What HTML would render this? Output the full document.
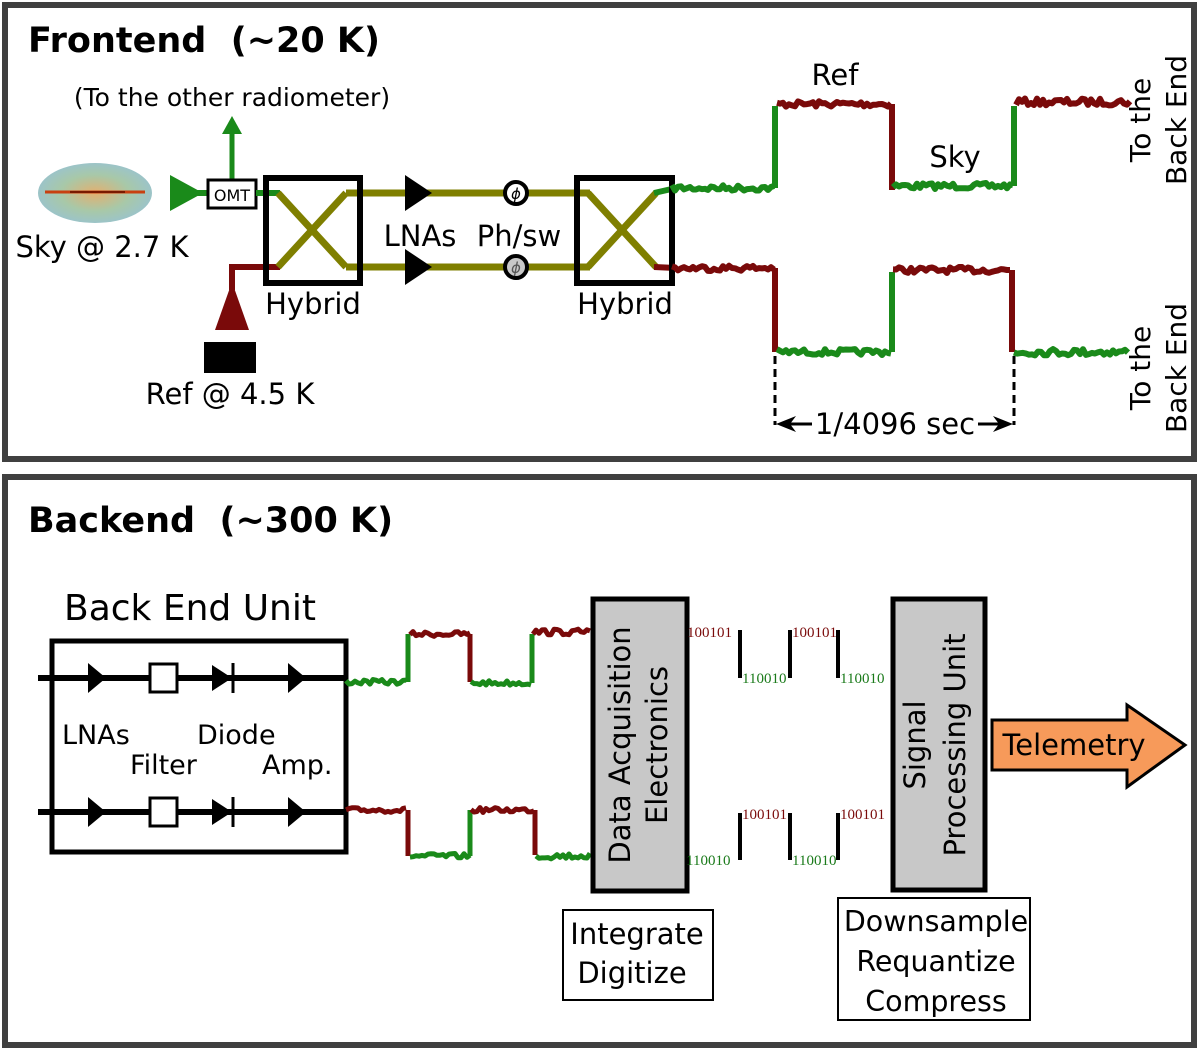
<!DOCTYPE html>
<html><head><meta charset="utf-8"><style>
html,body{margin:0;padding:0;background:#fff;}
svg{display:block;font-family:"DejaVu Sans","Liberation Sans",sans-serif;}
text{white-space:pre;}
</style></head><body>
<svg id="s" width="1200" height="1050" viewBox="0 0 1200 1050" xmlns="http://www.w3.org/2000/svg">
<defs>
<radialGradient id="sky" cx="50%" cy="50%" r="50%">
<stop offset="0" stop-color="#e3b070"/><stop offset="0.6" stop-color="#a8c8a8"/><stop offset="1" stop-color="#9cc4c8"/>
</radialGradient>
</defs>
<rect x="0" y="0" width="1200" height="1050" fill="#fff"/>
<rect x="5" y="5" width="1189" height="454" fill="none" stroke="#404040" stroke-width="6"/>
<rect x="5" y="477" width="1189" height="568" fill="none" stroke="#404040" stroke-width="6"/>

<!-- FRONTEND -->
<text x="28" y="52" font-size="35" font-weight="bold">Frontend  (~20 K)</text>
<text x="232" y="106" font-size="25" text-anchor="middle">(To the other radiometer)</text>
<line x1="232" y1="182" x2="232" y2="132" stroke="#1a8a1a" stroke-width="5"/>
<polygon points="222,134 242,134 232,116" fill="#1a8a1a"/>
<ellipse cx="95" cy="193" rx="57" ry="30" fill="url(#sky)"/>
<line x1="45" y1="192" x2="145" y2="192" stroke="#c84010" stroke-width="3"/>
<line x1="70" y1="192" x2="125" y2="192" stroke="#7a1a00" stroke-width="2"/>
<line x1="195" y1="193" x2="210" y2="193" stroke="#1a8a1a" stroke-width="6"/>
<polygon points="170,175 170,211 203,193" fill="#1a8a1a"/>
<rect x="208" y="180" width="48" height="28" fill="#fff" stroke="#000" stroke-width="3"/>
<text x="232" y="201" font-size="16" text-anchor="middle">OMT</text>
<line x1="256" y1="193" x2="280" y2="193" stroke="#1a8a1a" stroke-width="6"/>
<text x="102" y="257" font-size="29" text-anchor="middle">Sky @ 2.7 K</text>
<!-- ref load -->
<polyline points="280,267 232,267 232,290" fill="none" stroke="#7a0a0a" stroke-width="6"/>
<polygon points="232,282 215,330 249,330" fill="#7a0a0a"/>
<rect x="204" y="342" width="52" height="31" fill="#000"/>
<text x="230" y="404" font-size="29" text-anchor="middle">Ref @ 4.5 K</text>
<!-- hybrids and lines -->
<g stroke="#7f7f00" stroke-width="7" fill="none">
<line x1="346" y1="193" x2="590" y2="193"/>
<line x1="346" y1="267" x2="590" y2="267"/>
<polyline points="278,193 346,267"/>
<polyline points="278,267 346,193"/>
<polyline points="588,193 656,267"/>
<polyline points="588,267 656,193"/>
</g>
<line x1="654" y1="193" x2="676" y2="188" stroke="#1a8a1a" stroke-width="6"/>
<line x1="654" y1="267" x2="676" y2="268" stroke="#7a0a0a" stroke-width="6"/>
<rect x="266" y="178" width="94" height="105" fill="none" stroke="#000" stroke-width="6"/>
<rect x="577" y="178" width="95" height="105" fill="none" stroke="#000" stroke-width="6"/>
<text x="313" y="314" font-size="29" text-anchor="middle">Hybrid</text>
<text x="625" y="314" font-size="29" text-anchor="middle">Hybrid</text>
<polygon points="405,175 405,211 432,193" fill="#000"/>
<polygon points="405,249 405,285 432,267" fill="#000"/>
<circle cx="516" cy="193" r="11" fill="#fff" stroke="#000" stroke-width="4"/>
<text x="516" y="199" font-size="15" font-style="italic" text-anchor="middle">ϕ</text>
<circle cx="516" cy="267" r="11" fill="#c8c8c8" stroke="#000" stroke-width="4"/>
<text x="516" y="273" font-size="15" font-style="italic" text-anchor="middle" fill="#555">ϕ</text>
<text x="420" y="246" font-size="29" text-anchor="middle">LNAs</text>
<text x="519" y="246" font-size="29" text-anchor="middle">Ph/sw</text>
<text x="835" y="85" font-size="29" text-anchor="middle">Ref</text>
<text x="955" y="167" font-size="29" text-anchor="middle">Sky</text>
<g id="wave"></g>
<line x1="775" y1="356" x2="775" y2="425" stroke="#000" stroke-width="3" stroke-dasharray="8,5"/>
<line x1="1014" y1="356" x2="1014" y2="425" stroke="#000" stroke-width="3" stroke-dasharray="8,5"/>
<line x1="780" y1="424" x2="812" y2="424" stroke="#000" stroke-width="3"/>
<polygon points="776,424 796,416 790,424 796,432" fill="#000"/>
<line x1="978" y1="424" x2="1008" y2="424" stroke="#000" stroke-width="3"/>
<polygon points="1013,424 993,416 999,424 993,432" fill="#000"/>
<text x="895" y="434" font-size="29" text-anchor="middle">1/4096 sec</text>
<g font-size="28" text-anchor="middle">
<text transform="translate(1150,120) rotate(-90)">To the</text>
<text transform="translate(1186,120) rotate(-90)">Back End</text>
<text transform="translate(1150,368) rotate(-90)">To the</text>
<text transform="translate(1186,368) rotate(-90)">Back End</text>
</g>

<!-- BACKEND -->
<text x="28" y="532" font-size="35" font-weight="bold">Backend  (~300 K)</text>
<text x="190" y="620" font-size="36" text-anchor="middle">Back End Unit</text>
<rect x="52" y="641" width="294" height="211" fill="none" stroke="#000" stroke-width="5"/>
<g id="beu"></g>
<g font-size="27">
<text x="62" y="744">LNAs</text>
<text x="197" y="744">Diode</text>
<text x="130" y="774">Filter</text>
<text x="262" y="774">Amp.</text>
</g>
<rect x="593" y="599" width="94" height="292" fill="#c8c8c8" stroke="#000" stroke-width="5"/>
<g font-size="29" text-anchor="middle">
<text transform="translate(630,745) rotate(-90)">Data Acquisition</text>
<text transform="translate(667,745) rotate(-90)">Electronics</text>
</g>
<rect x="893" y="599" width="92" height="291" fill="#c8c8c8" stroke="#000" stroke-width="5"/>
<g font-size="29" text-anchor="middle">
<text transform="translate(925,745) rotate(-90)">Signal</text>
<text transform="translate(965,745) rotate(-90)">Processing Unit</text>
</g>
<polygon points="992,720 1127,720 1127,705 1185,745 1127,787 1127,770 992,770" fill="#f79a5a" stroke="#000" stroke-width="3"/>
<text x="1074" y="755" font-size="29" text-anchor="middle">Telemetry</text>
<rect x="563" y="910" width="150" height="90" fill="#fff" stroke="#000" stroke-width="2"/>
<text x="637" y="944" font-size="29" text-anchor="middle">Integrate</text>
<text x="632" y="983" font-size="29" text-anchor="middle">Digitize</text>
<rect x="838" y="898" width="192" height="122" fill="#fff" stroke="#000" stroke-width="2"/>
<text x="936" y="931" font-size="28.5" text-anchor="middle">Downsample</text>
<text x="936" y="971" font-size="28.5" text-anchor="middle">Requantize</text>
<text x="936" y="1011" font-size="28.5" text-anchor="middle">Compress</text>
<g font-family="'Liberation Serif',serif" font-size="15">
<text x="687" y="637" fill="#7a0a0a">100101</text>
<text x="742" y="683" fill="#1a7a1a">110010</text>
<text x="792" y="637" fill="#7a0a0a">100101</text>
<text x="840" y="683" fill="#1a7a1a">110010</text>
<text x="686" y="865" fill="#1a7a1a">110010</text>
<text x="742" y="819" fill="#7a0a0a">100101</text>
<text x="792" y="865" fill="#1a7a1a">110010</text>
<text x="840" y="819" fill="#7a0a0a">100101</text>
</g>
<g stroke="#000" stroke-width="4">
<line x1="740" y1="630" x2="740" y2="678"/>
<line x1="790" y1="630" x2="790" y2="678"/>
<line x1="838" y1="630" x2="838" y2="678"/>
<line x1="740" y1="813" x2="740" y2="860"/>
<line x1="790" y1="813" x2="790" y2="860"/>
<line x1="838" y1="813" x2="838" y2="860"/>
</g>
</svg>
<script>
(function(){
var NS="http://www.w3.org/2000/svg";var seed=7;
function r(){seed=(seed*16807)%2147483647;return seed/2147483647-0.5;}
var G="#1a8a1a",R="#7a0a0a";
function seg(g,x1,x2,y,c,w,amp){var p=[];for(var x=x1;x<=x2;x+=3){p.push(x+","+(y+r()*amp).toFixed(1));}
var e=document.createElementNS(NS,"polyline");e.setAttribute("points",p.join(" "));e.setAttribute("fill","none");e.setAttribute("stroke",c);e.setAttribute("stroke-width",w);e.setAttribute("stroke-linejoin","round");g.appendChild(e);}
function vl(g,x,y1,y2,c,w){var e=document.createElementNS(NS,"line");e.setAttribute("x1",x);e.setAttribute("x2",x);e.setAttribute("y1",y1);e.setAttribute("y2",y2);e.setAttribute("stroke",c);e.setAttribute("stroke-width",w);g.appendChild(e);}
var g=document.getElementById("wave");
seg(g,672,775,188,G,6,6);vl(g,775,188,106,G,6);seg(g,777,892,104,R,6,6);vl(g,892,104,190,R,6);
seg(g,893,1014,186,G,6,6);vl(g,1014,186,106,G,6);seg(g,1016,1130,102,R,6,7);
seg(g,672,775,268,R,6,6);vl(g,775,268,352,R,6);seg(g,777,892,352,G,6,6);vl(g,892,352,272,G,6);
seg(g,893,1012,270,R,6,6);vl(g,1012,270,352,R,6);seg(g,1014,1130,352,G,6,7);
var b=document.getElementById("beu");
seg(b,346,408,682,G,5,5);vl(b,408,682,634,G,5);seg(b,410,470,634,R,5,5);vl(b,470,634,682,R,5);
seg(b,471,532,683,G,5,5);vl(b,532,683,634,G,5);seg(b,533,592,632,R,5,6);
seg(b,346,408,810,R,5,5);vl(b,408,810,856,R,5);seg(b,410,470,856,G,5,5);vl(b,470,856,810,G,5);
seg(b,471,535,810,R,5,5);vl(b,535,810,855,R,5);seg(b,536,592,856,G,5,6);
function L(x1,y1,x2,y2,w){var e=document.createElementNS(NS,"line");e.setAttribute("x1",x1);e.setAttribute("y1",y1);e.setAttribute("x2",x2);e.setAttribute("y2",y2);e.setAttribute("stroke","#000");e.setAttribute("stroke-width",w);b.appendChild(e);}
function P(pts,f){var e=document.createElementNS(NS,"polygon");e.setAttribute("points",pts);e.setAttribute("fill",f||"#000");if(f){e.setAttribute("stroke","#000");e.setAttribute("stroke-width",3);}b.appendChild(e);}
[678,812].forEach(function(y){L(38,y,346,y,6);P("88,"+(y-15)+" 88,"+(y+15)+" 106,"+y);
var e=document.createElementNS(NS,"rect");e.setAttribute("x",150);e.setAttribute("y",y-14);e.setAttribute("width",27);e.setAttribute("height",28);e.setAttribute("fill","#fff");e.setAttribute("stroke","#000");e.setAttribute("stroke-width",3);b.appendChild(e);
P("212,"+(y-13)+" 212,"+(y+13)+" 232,"+y);L(233,y-15,233,y+15,3);P("288,"+(y-15)+" 288,"+(y+15)+" 306,"+y);});
})();
</script>
</body></html>
